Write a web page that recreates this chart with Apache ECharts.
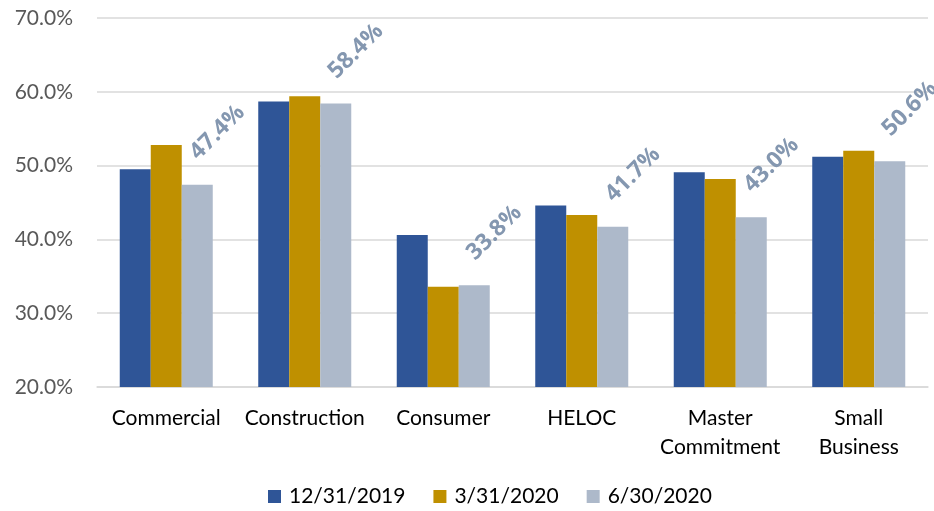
<!DOCTYPE html>
<html>
<head>
<meta charset="utf-8">
<script src="https://cdn.jsdelivr.net/npm/echarts@6/dist/echarts.min.js"></script>
<style>
  html, body { margin: 0; padding: 0; background: #fff; }
  #chart { width: 934px; height: 511px; }
</style>
</head>
<body>
<div id="chart"></div>
<script>
var categories = ['Commercial', 'Construction', 'Consumer', 'HELOC', 'Master\nCommitment', 'Small\nBusiness'];
var seriesNames = ['12/31/2019', '3/31/2020', '6/30/2020'];
var dec2019 = [49.5, 58.7, 40.6, 44.6, 49.1, 51.2];
var mar2020 = [52.8, 59.4, 33.6, 43.3, 48.2, 52.0];
var jun2020 = [47.4, 58.4, 33.8, 41.7, 43.0, 50.6];
var colors = ['#2f5597', '#bf9000', '#adb9ca'];

var font = 'Lato, "Open Sans", sans-serif';
var chart = echarts.init(document.getElementById('chart'));

function bar(name, data, color, showLabel) {
    return {
        name: name,
        type: 'bar',
        data: data,
        barWidth: 31,
        barGap: '0%',
        itemStyle: { color: color },
        label: {
            show: showLabel,
            position: 'top',
            rotate: 45,
            align: 'left',
            verticalAlign: 'middle',
            distance: 28,
            offset: [-2, -3],
            color: '#8497b0',
            fontFamily: '"Open Sans", sans-serif',
            fontWeight: 'bold',
            fontSize: 23,
            formatter: function (p) { return p.value.toFixed(1) + '%'; }
        }
    };
}

chart.setOption({
    animation: false,
    textStyle: { fontFamily: font },
    grid: { left: 97, right: 6, top: 18, bottom: 124 },
    legend: {
        bottom: -1,
        left: 263,
        itemWidth: 13,
        itemHeight: 13,
        itemGap: 28,
        icon: 'rect',
        textStyle: { fontSize: 21, color: '#000', fontFamily: font, padding: [0, 0, 0, 3] }
    },
    xAxis: {
        type: 'category',
        data: categories,
        axisLine: { show: true, lineStyle: { color: '#d9d9d9', width: 1.5 } },
        axisTick: { show: false },
        axisLabel: { interval: 0, color: '#000', fontSize: 21, margin: 17, lineHeight: 29, fontFamily: font }
    },
    yAxis: {
        type: 'value',
        min: 20,
        max: 70,
        interval: 10,
        axisLine: { show: false },
        axisTick: { show: false },
        splitLine: { lineStyle: { color: '#d9d9d9', width: 1.5 } },
        axisLabel: {
            color: '#595959',
            fontSize: 21,
            margin: 24,
            fontFamily: font,
            formatter: function (v) { return v.toFixed(1) + '%'; }
        }
    },
    series: [
        bar(seriesNames[0], dec2019, colors[0], false),
        bar(seriesNames[1], mar2020, colors[1], false),
        bar(seriesNames[2], jun2020, colors[2], true)
    ]
});
</script>
</body>
</html>
